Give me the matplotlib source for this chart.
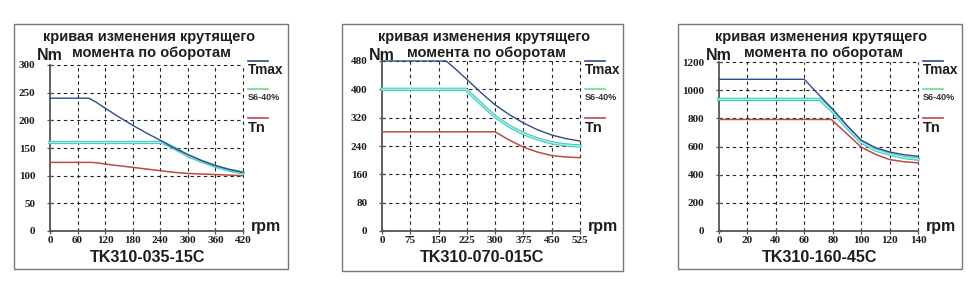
import matplotlib.pyplot as plt
from matplotlib.patches import Rectangle
import numpy as np

W, H = 970, 291

# ---- data ----
titles = ['TK310-035-15C', 'TK310-070-015C', 'TK310-160-45C']

x1 = [0, 85, 100, 120, 150, 180, 210, 240, 270, 300, 330, 360, 390, 420]
tmax1 = [240, 240, 233, 222, 206, 191, 177, 164, 150, 138, 127, 118, 111, 106]
s6_x1 = [0, 245, 270, 300, 330, 360, 390, 420]
s6_1 = [160, 160, 150, 136, 126, 117, 110, 105]
tn_x1 = [0, 90, 105, 120, 150, 180, 210, 240, 270, 300, 330, 360, 390, 420]
tn1 = [124, 124, 123, 121, 118, 115, 112, 109, 106, 104, 103, 102, 101, 100]

x2 = [0, 170, 190, 225, 262, 300, 337, 375, 412, 450, 487, 525]
tmax2 = [480, 480, 462, 428, 391, 356, 329, 305, 286, 271, 261, 254]
s6_x2 = [0, 222, 240, 262, 300, 337, 375, 412, 450, 487, 525]
s6_2 = [400, 400, 382, 360, 323, 296, 275, 260, 249, 243, 240]
tn_x2 = [0, 300, 337, 375, 412, 450, 487, 525]
tn2 = [280, 280, 257, 237, 223, 213, 209, 207]

x3 = [0, 60, 70, 80, 90, 100, 110, 120, 130, 140]
tmax3 = [1077, 1077, 970, 865, 750, 645, 592, 561, 542, 530]
s6_x3 = [0, 71, 80, 90, 100, 110, 120, 130, 140]
s6_3 = [935, 935, 848, 735, 632, 575, 545, 522, 510]
tn_x3 = [0, 79, 90, 100, 110, 120, 130, 140]
tn3 = [792, 792, 690, 596, 545, 507, 492, 484]

xticks = [np.arange(0, 421, 60), np.arange(0, 526, 75), np.arange(0, 141, 20)]
yticks = [np.arange(0, 301, 50), np.arange(0, 481, 80), np.arange(0, 1201, 200)]

# pixel layout: axes (left, right, top, bottom), outer box (left, right, top, bottom)
axes_px = [(50, 243, 65, 231), (382, 580, 61, 231), (719, 918, 62, 231)]
box_px = [(14, 288, 24, 269), (342, 623, 24, 271), (678, 962, 24, 269)]

C_MAX = '#2c4c8c'
C_S6 = '#3cc8b4'
C_S6_FILL = '#a8eef0'
C_TN = '#c04848'
C_TXT = '#1e1e1e'

plt.rcParams['font.family'] = ['Liberation Sans', 'DejaVu Sans']

fig = plt.figure(figsize=(W / 100, H / 100), dpi=100)


def fx(px):
    return px / W


def fy(py):
    return 1 - py / H


series = [
    (x1, tmax1, s6_x1, s6_1, tn_x1, tn1),
    (x2, tmax2, s6_x2, s6_2, tn_x2, tn2),
    (x3, tmax3, s6_x3, s6_3, tn_x3, tn3),
]

for i in range(3):
    l, r, t, b = axes_px[i]
    bl, br, bt, bb = box_px[i]
    fig.patches.append(Rectangle((fx(bl), fy(bb)), fx(br - bl), (bb - bt) / H,
                                 transform=fig.transFigure, fill=False,
                                 edgecolor='#777777', linewidth=1.0))

    ax = fig.add_axes([fx(l), fy(b), fx(r - l), (b - t) / H])
    xs, ymax, s6x, s6y, tnx, tny = series[i]
    xt = xticks[i]
    yt = yticks[i]
    ax.set_xlim(xt[0], xt[-1])
    ax.set_ylim(yt[0], yt[-1])

    # dashed grid, including the top and right edges
    ax.hlines(yt[1:], xt[0], xt[-1], colors='#222222', linestyles=(0, (3, 3)),
              linewidth=0.8, clip_on=False, zorder=1)
    ax.vlines(xt[1:], yt[0], yt[-1], colors='#222222', linestyles=(0, (3, 3)),
              linewidth=0.8, clip_on=False, zorder=1)

    ax.plot(tnx, tny, color=C_TN, linewidth=1.1, zorder=3, clip_on=False)
    ax.plot(s6x, s6y, color=C_S6, linewidth=2.4, zorder=3, clip_on=False)
    ax.plot(s6x, s6y, color=C_S6_FILL, linewidth=1.0, zorder=3, clip_on=False)
    ax.plot(xs, ymax, color=C_MAX, linewidth=1.0, zorder=4, clip_on=False)

    for s in ['top', 'right']:
        ax.spines[s].set_visible(False)
    for s in ['left', 'bottom']:
        ax.spines[s].set_color('#555555')
        ax.spines[s].set_linewidth(1.3)
    ax.set_xticks(xt)
    ax.set_yticks(yt)
    ax.tick_params(direction='inout', length=5, width=0.9, color='#555555')
    ax.tick_params(axis='y', pad=8)
    ax.tick_params(axis='x', pad=1)
    for lab in ax.get_xticklabels() + ax.get_yticklabels():
        lab.set_fontfamily('Liberation Serif')
        lab.set_fontweight('bold')
        lab.set_fontsize(8)
        lab.set_color(C_TXT)
    ax.set_facecolor('none')

    cx = (l + r) / 2 + 3
    fig.text(fx(cx), fy(37), 'кривая изменения крутящего', ha='center', va='center',
             fontsize=10.5, fontweight='bold', color=C_TXT)
    fig.text(fx(cx + 2), fy(53), 'момента по оборотам', ha='center', va='center',
             fontsize=10.5, fontweight='bold', color=C_TXT)
    fig.text(fx(l), fy(55), 'Nm', ha='center', va='center', fontsize=11.5,
             fontweight='bold', color=C_TXT)
    fig.text(fx(cx - 2), fy(257), titles[i], ha='center', va='center', fontsize=11.6,
             fontweight='bold', color=C_TXT)
    fig.text(fx(r + 8), fy(227), 'rpm', ha='left', va='center', fontsize=11.5,
             fontweight='bold', color=C_TXT)

    lx = r + 5
    fig.text(fx(lx), fy(70), 'Tmax', ha='left', va='center', fontsize=9.8,
             fontweight='bold', color=C_TXT)
    fig.text(fx(lx), fy(98), 'S6-40%', ha='left', va='center', fontsize=6.5,
             fontweight='bold', color='#333333')
    fig.text(fx(lx), fy(128), 'Tn', ha='left', va='center', fontsize=10.5,
             fontweight='bold', color=C_TXT)
    for yy, cc in [(61, C_MAX), (89, '#6ede8a'), (118, C_TN)]:
        fig.add_artist(plt.Line2D([fx(lx), fx(lx + 20)], [fy(yy), fy(yy)],
                                  transform=fig.transFigure, color=cc, linewidth=1.2))

fig.savefig('out.png', dpi=100)
